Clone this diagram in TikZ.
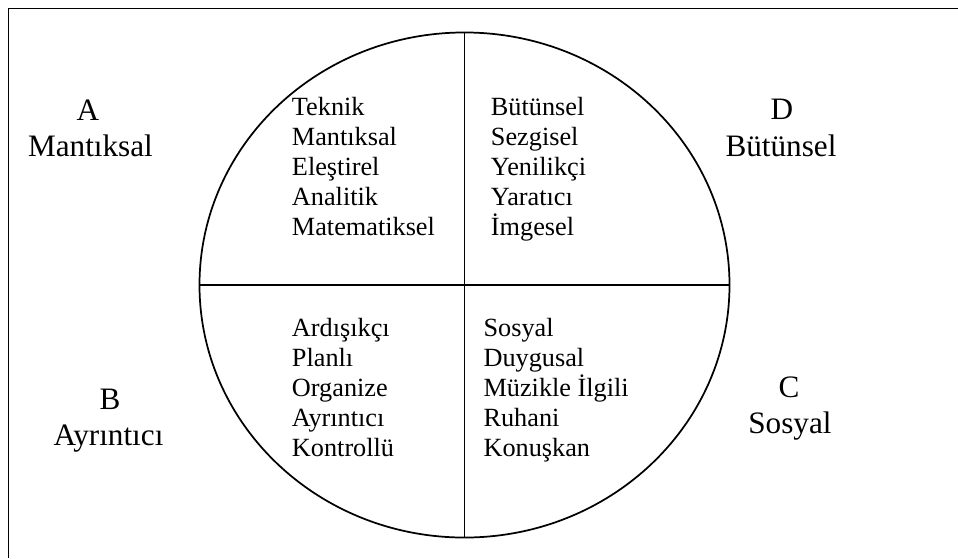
\documentclass[tikz,border=0pt]{standalone}
\usepackage{fontspec}
\setmainfont{Liberation Serif}
\begin{document}
\begin{tikzpicture}[x=0.75pt,y=-0.75pt,
  frame/.style={line width=1.4pt,black},
  ring/.style={line width=1.3pt,black},
  quad/.style={anchor=base west,inner sep=0pt,font=\fontsize{19.7}{22}\selectfont},
  lab/.style={anchor=base,inner sep=0pt,font=\fontsize{23.4}{26}\selectfont}]
\useasboundingbox (0,0) rectangle (958,558);
% frame (top and left edges visible)
\coordinate (fTR) at (958,8.5);
\coordinate (fTL) at (8.5,8.5);
\coordinate (fBL) at (8.5,558);
\draw[frame] (fTR) -- (fTL) -- (fBL);
% circle
\coordinate (c) at (464.5,285);
\draw[ring] (c) ellipse [x radius=198.75pt, y radius=189.4pt];
\coordinate (cT) at (464.5,32.5);
\coordinate (cB) at (464.5,537.5);
\coordinate (cL) at (199.5,285);
\coordinate (cR) at (729.5,285);
\draw[ring] (cT) -- (cB);
\draw[ring] (cL) -- (cR);
% quadrant texts
\foreach \t [count=\i from 0] in {Teknik,Mantıksal,Eleştirel,Analitik,Matematiksel}
  \node[quad] (qa\i) at (291.7,{115+30*\i}) {\t};
\foreach \t [count=\i from 0] in {Bütünsel,Sezgisel,Yenilikçi,Yaratıcı,İmgesel}
  \node[quad] (qd\i) at (490.7,{115+30*\i}) {\t};
\foreach \t [count=\i from 0] in {Ardışıkçı,Planlı,Organize,Ayrıntıcı,Kontrollü}
  \node[quad] (qb\i) at (291.7,{336.7+30*\i}) {\t};
\foreach \t [count=\i from 0] in {Sosyal,Duygusal,Müzikle İlgili,Ruhani,Konuşkan}
  \node[quad] (qc\i) at (483.3,{336.7+30*\i}) {\t};
% side labels
\node[lab] (A) at (88,120) {A};
\node[lab] (Am) at (90.5,156) {Mantıksal};
\node[lab] (D) at (782,119) {D};
\node[lab] (Db) at (781,156) {Bütünsel};
\node[lab] (B) at (110,409) {B};
\node[lab] (Ba) at (108.5,445) {Ayrıntıcı};
\node[lab] (C) at (789,397) {C};
\node[lab] (Cs) at (790,433) {Sosyal};
\end{tikzpicture}
\end{document}
